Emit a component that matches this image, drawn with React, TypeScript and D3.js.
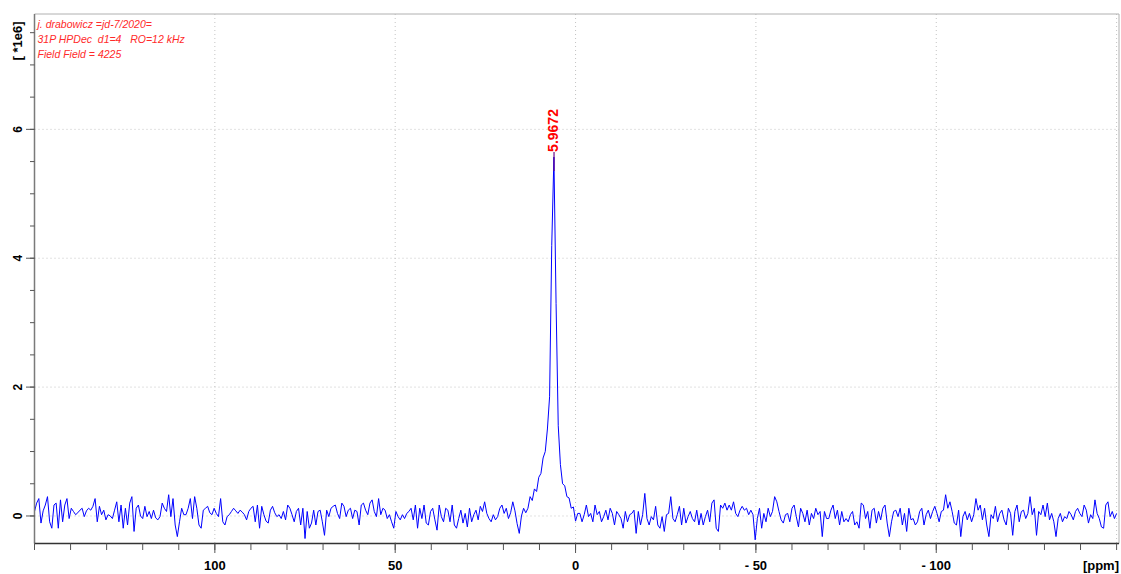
import React from 'react';
import * as d3 from 'd3';

// svg size and plot frame
const svgWidth = 1121;
const svgHeight = 574;
const plotLeft = 34.5;
const plotRight = 1119;
const plotTop = 14;
const plotBottom = 543.5;

const font = 'Arial, "Liberation Sans", sans-serif';
const lineColor = '#0000ff';
const noteColor = '#ff2a2a';
const gridColor = '#c4c4c4';

// spectrum is sampled every 0.6 ppm, starting at 150 ppm
const ppmStart = 150;
const ppmStep = 0.6;
const unit = 1e4; // intensities below are in units of 0.01 *1e6

const baseline150to75 = [
  7, 20, 27, -11, 8, 17, 30, -9, -19, 17,
  20, -19, 25, -9, 17, 27, -4, 12, 7, 2,
  5, 9, 12, -1, 8, 12, 9, 15, 27, -9,
  15, 2, 9, -6, 2, 0, -4, 9, 22, -9,
  17, -19, 12, -14, 20, 30, -24, 12, 17, 0,
  -4, 15, -1, 7, -4, 9, -3, -6, -1, 20,
  12, 7, 33, -1, 27, -14, -32, -9, 12, 2,
  2, 12, 27, -4, 30, 12, -14, -19, 9, 12,
  15, 5, 2, 12, 4, -1, 27, -9, -14, -1,
  2, 7, 12, 8, 4, 9, 6, 2, -6, 7,
  12, 15, -9, 17, -19, 15, 2, -8, -11, 9,
  15, 5, -1, 2, -4, 7, -6, 17, 12, 2,
  -9, 7, 12, -14, 12,
];

const baseline75to18 = [
  -35, 7, -19, -11, 9, -14, 7, 9, -9, -30,
  9, -1, 12, 15, 17, 4, -4, 20, 15, -1,
  9, 12, -4, 9, 7, -14, 17, 20, 9, 2,
  20, 25, 7, -1, 27, 2, 12, 9, -4, 2,
  -9, -19, 7, -1, -6, 2, -4, 4, 7, 12,
  -6, 17, -19, 12, -4, 17, -11, -14, 7, 12,
  -6, -22, 17, -1, -9, 12, 9, -9, 17, -14,
  -19, -4, 9, -11, 4, -17, 12, -9, 2, 9,
  -6, 15, 7, 22, 4, -4, -9, 2, -6, -1,
  12, 17, 4, 12, -4,
];

// 18 ppm down to -0.6 ppm
const peakRegion = [
  5, 22, 8, -12, -27, 0, 12, 5, 12, 30,
  24, 42, 38, 60, 66, 90, 100, 135, 185, 420,
  557, 330, 140, 80, 50, 47, 30, 28, 12, 14,
  -8, 4,
];

const baselineMinus1to75 = [
  4, -9, 2, 17, -1, 4, -9, 17, 2, 7,
  -9, -1, 9, -6, 12, 4, -14, 7, 2, -4,
  -19, 7, -9, 2, 4, 9, -27, 7, -14, 2,
  35, -4, -14, -1, -6, 15, -14, -19, -1, -24,
  2, 4, 30, -4, -9, 2, 15, -14, 12, -11,
  -1, 7, -4, -9, 9, -14, 4, -14, -1, 9,
  -9, 20, 25, -19, -24, 17, 12, 20, 9, 17,
  9, 22, 4, -1, 9, 15, 9, 12, 2, 9,
  2, -37, -4, 12, -19, 4, -9, 12, -1, 7,
  30, 22, 7, -6, -11, 2, 4, -9, 12, 17,
  -1, -17, 12, 4, -9, 9, -14, 4, -4, 12,
  2, 7, -32, 7, -4, -4, 9, 17, -4, 9,
  -14, 7, -9,
];

const baselineMinus75to150 = [
  -4, -9, 2, 7, -14, -9, -19, 20, 17, -4,
  7, -19, 9, 12, -11, 7, -6, 12, 17, -11,
  -32, -9, 7, 9, -1, 12, -14, 4, -24, 12,
  -6, -4, -14, -9, 7, 12, -14, 2, 9, -4,
  7, 15, 4, -9, 7, 9, 33, 12, 22, 7,
  -11, -14, 9, -32, -1, 7, -6, 4, -9, 2,
  27, 9, 17, -6, 12, -14, -32, 2, -4, 15,
  -9, 4, 9, -6, -14, 12, 4, -30, 7, 17,
  -9, 7, 9, -4, 4, 30, 2, 12, -30, 7,
  2, 17, -1, 20, -6, 4, -9, -32, -4, 4,
  -9, -1, -4, 7, 2, -6, 7, 12, 4, -1,
  17, 9, -11, 2, -4, 25, 4, -4, -17, -19,
  17, 22, -1, 7, -4, 4,
];

const peakPpm = 5.9672;
const peakLabel = '5.9672';

const xMajorTicks = [100, 50, 0, -50, -100];
const xMajorLabels = ['100', '50', '0', '- 50', '- 100'];
const yMajorTicks = [0, 2, 4, 6];
const yMajorLabels = ['0', '2', '4', '6'];

const headerLines = [
  'j. drabowicz =jd-7/2020=',
  '31P HPDec  d1=4   RO=12 kHz',
  'Field Field = 4225',
];

const xScale = d3.scaleLinear().domain([150, -150]).range([plotLeft, 1116.6]);
const yScale = d3.scaleLinear().domain([-0.427e6, 7.79e6]).range([plotBottom, plotTop]);

const intensities = [
  ...baseline150to75,
  ...baseline75to18,
  ...peakRegion,
  ...baselineMinus1to75,
  ...baselineMinus75to150,
];
const spectrum = intensities.map((v, i) => ({ ppm: ppmStart - i * ppmStep, value: v * unit }));

const spectrumLine = d3
  .line<{ ppm: number; value: number }>()
  .x((d) => xScale(d.ppm))
  .y((d) => yScale(d.value));

const xMinor = d3.range(150, -151, -10);
const yMinor = d3.range(0, 7.6, 0.5);

export default function App() {
  const peakX = xScale(peakPpm);
  const peakTop = yScale(d3.max(peakRegion)! * unit);
  return (
    <svg
      width={svgWidth}
      height={svgHeight}
      style={{ position: 'absolute', left: 0, top: 0, background: '#fff' }}
      fontFamily={font}
    >
      {/* grid */}
      {yMajorTicks.map((t) => (
        <line key={'gy' + t} x1={plotLeft} x2={plotRight} y1={yScale(t * 1e6)} y2={yScale(t * 1e6)}
          stroke={gridColor} strokeDasharray="1,3" />
      ))}
      {[...xMajorTicks, -150].map((t) => (
        <line key={'gx' + t} x1={xScale(t)} x2={xScale(t)} y1={plotTop} y2={plotBottom}
          stroke={gridColor} strokeDasharray="1,3" />
      ))}

      {/* frame */}
      <line x1={plotLeft} x2={plotRight} y1={plotTop} y2={plotTop} stroke="#b0b0b0" />
      <line x1={plotRight} x2={plotRight} y1={plotTop} y2={plotBottom} stroke="#b0b0b0" />

      {/* spectrum */}
      <path d={spectrumLine(spectrum) || ''} fill="none" stroke={lineColor} strokeWidth={1} />

      {/* peak pick */}
      <line x1={peakX} x2={peakX} y1={152} y2={peakTop + 14} stroke="#6a0a8a" strokeWidth={1.2} />
      <text transform={`translate(${peakX + 4},130.5) rotate(-90)`} textAnchor="middle"
        fontSize={14} fontWeight="bold" fill="#ff0000">{peakLabel}</text>

      {/* y axis */}
      <line x1={plotLeft} x2={plotLeft} y1={plotTop} y2={plotBottom} stroke="#7a7a7a" strokeWidth={1.5} />
      {yMinor.map((t) => (
        <line key={'ym' + t} x1={30} x2={plotLeft} y1={yScale(t * 1e6)} y2={yScale(t * 1e6)} stroke="#555" />
      ))}
      {yMajorTicks.map((t, i) => (
        <g key={'yt' + t}>
          <line x1={26} x2={plotLeft} y1={yScale(t * 1e6)} y2={yScale(t * 1e6)} stroke="#555" />
          <text transform={`translate(21.5,${yScale(t * 1e6)}) rotate(-90)`} textAnchor="middle"
            fontSize={12} fontWeight="bold" fill="#000">{yMajorLabels[i]}</text>
        </g>
      ))}
      <text transform="translate(22,41) rotate(-90)" textAnchor="middle" fontSize={13}
        fontWeight="bold" fill="#000" style={{ whiteSpace: 'pre' }}>{'[ *1e6]'}</text>

      {/* x axis */}
      <line x1={plotLeft} x2={plotRight} y1={plotBottom} y2={plotBottom} stroke="#333" strokeWidth={1.5} />
      {xMinor.map((t) => (
        <line key={'xm' + t} x1={xScale(t)} x2={xScale(t)} y1={plotBottom} y2={550} stroke="#555" />
      ))}
      {xMajorTicks.map((t, i) => (
        <g key={'xt' + t}>
          <line x1={xScale(t)} x2={xScale(t)} y1={plotBottom} y2={553} stroke="#555" />
          <text x={xScale(t)} y={569.5} textAnchor="middle" fontSize={13} fontWeight="bold"
            fill="#000" style={{ whiteSpace: 'pre' }}>{xMajorLabels[i]}</text>
        </g>
      ))}
      <text x={1119} y={569.5} textAnchor="end" fontSize={13} fontWeight="bold" fill="#000">[ppm]</text>

      {/* acquisition notes */}
      {headerLines.map((s, i) => (
        <text key={'h' + i} x={37.5} y={28.3 + i * 15} fontSize={10.5} fontStyle="italic"
          fill={noteColor} style={{ whiteSpace: 'pre' }}>{s}</text>
      ))}
    </svg>
  );
}
